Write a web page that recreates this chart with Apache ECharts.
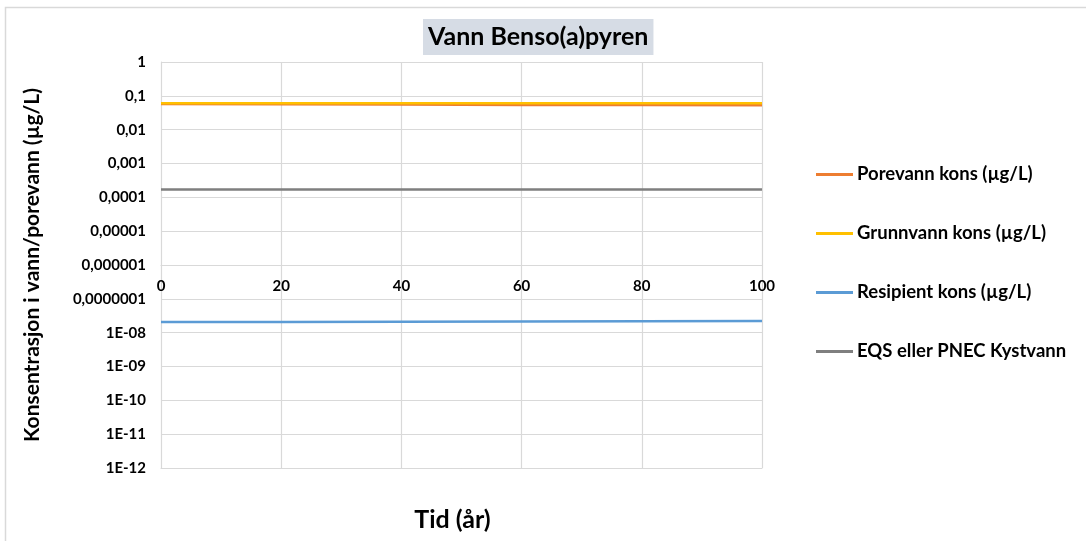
<!DOCTYPE html>
<html>
<head>
<meta charset="utf-8">
<script src="https://cdn.jsdelivr.net/npm/echarts@6/dist/echarts.min.js"></script>
<style>html,body{margin:0;padding:0;background:#fff}#c{width:1086px;height:541px}</style>
</head>
<body>
<div id="c"></div>
<script>
var years = [0, 20, 40, 60, 80, 100];
var porevann = [0.057, 0.056, 0.055, 0.054, 0.0535, 0.053];
var grunnvann = [0.06, 0.06, 0.06, 0.06, 0.06, 0.06];
var resipient = [2.05e-8, 2.08e-8, 2.11e-8, 2.14e-8, 2.17e-8, 2.2e-8];
var eqs = [1.7e-4, 1.7e-4, 1.7e-4, 1.7e-4, 1.7e-4, 1.7e-4];
var seriesNames = ['Porevann kons (µg/L)', 'Grunnvann kons (µg/L)', 'Resipient kons (µg/L)', 'EQS eller PNEC Kystvann'];
var yTickLabels = ['1', '0,1', '0,01', '0,001', '0,0001', '0,00001', '0,000001', '0,0000001', '1E-08', '1E-09', '1E-10', '1E-11', '1E-12'];
var xTicks = [0, 20, 40, 60, 80, 100];

function pairs(vals) { return years.map(function (y, i) { return [y, vals[i]]; }); }

var FONT = 'Lato';
var grid = '#d9d9d9';
var chart = echarts.init(document.getElementById('c'));
chart.setOption({
  animation: false,
  textStyle: { fontFamily: FONT },
  graphic: [{
    type: 'rect', shape: { x: 5.5, y: 7.5, width: 1100, height: 560 },
    style: { fill: 'none', stroke: '#d9d9d9', lineWidth: 1.5 }, silent: true, z: -10
  }],
  title: {
    text: 'Vann Benso(a)pyren', left: 423, top: 19,
    backgroundColor: '#d6dce5', padding: [5, 5, 6, 5],
    textStyle: { fontFamily: FONT, fontWeight: 'bold', fontSize: 25, color: '#000' }
  },
  legend: {
    orient: 'vertical', left: 816, top: 165, padding: 0, itemWidth: 37, itemHeight: 3, itemGap: 40,
    icon: 'rect',
    textStyle: { fontFamily: FONT, fontWeight: 'bold', fontSize: 18.5, color: '#000', padding: [0, 0, 0, -1] },
    data: seriesNames
  },
  grid: [
    { left: 161, top: 62, width: 601, height: 406 },
    { left: 161, top: 62, width: 601, height: 203 }
  ],
  xAxis: [{
    type: 'value', gridIndex: 0, min: 0, max: 100, interval: 20,
    axisLine: { show: true, lineStyle: { color: grid } }, axisTick: { show: false },
    axisLabel: { show: false },
    splitLine: { show: true, lineStyle: { color: grid, width: 1.2 } },
    name: 'Tid (år)', nameLocation: 'middle', nameGap: 39,
    nameTextStyle: { fontFamily: FONT, fontWeight: 'bold', fontSize: 25, color: '#000', padding: [0, 18, 0, 0] }
  }, {
    type: 'value', gridIndex: 1, min: 0, max: 100, interval: 20, data: xTicks,
    axisLine: { show: true, lineStyle: { color: grid, width: 1.2 } }, axisTick: { show: false },
    axisLabel: { show: true, margin: 14, fontFamily: FONT, fontWeight: 'bold', fontSize: 15, color: '#000' },
    splitLine: { show: false }
  }],
  yAxis: [{
    type: 'log', gridIndex: 0, logBase: 10, min: 1e-12, max: 1, interval: 1,
    axisLine: { show: true, lineStyle: { color: grid } }, axisTick: { show: false },
    axisLabel: {
      margin: 15, fontFamily: FONT, fontWeight: 'bold', fontSize: 15, color: '#000',
      formatter: function (v) { var i = Math.round(-Math.log10(v)); return yTickLabels[i] || ''; }
    },
    splitLine: { show: true, lineStyle: { color: grid, width: 1.2 } },
    name: 'Konsentrasjon i vann/porevann (µg/L)', nameLocation: 'middle', nameGap: 118,
    nameTextStyle: { fontFamily: FONT, fontWeight: 'bold', fontSize: 21, color: '#000' }
  }, {
    type: 'value', gridIndex: 1, show: false, min: 0, max: 1
  }],
  series: [
    { name: seriesNames[0], type: 'line', xAxisIndex: 0, yAxisIndex: 0, data: pairs(porevann), showSymbol: false, symbol: 'none', lineStyle: { color: '#ED7D31', width: 2.5 }, itemStyle: { color: '#ED7D31' } },
    { name: seriesNames[1], type: 'line', xAxisIndex: 0, yAxisIndex: 0, data: pairs(grunnvann), showSymbol: false, symbol: 'none', lineStyle: { color: '#FFC000', width: 2.5 }, itemStyle: { color: '#FFC000' } },
    { name: seriesNames[2], type: 'line', xAxisIndex: 0, yAxisIndex: 0, data: pairs(resipient), showSymbol: false, symbol: 'none', lineStyle: { color: '#5B9BD5', width: 2.5 }, itemStyle: { color: '#5B9BD5' } },
    { name: seriesNames[3], type: 'line', xAxisIndex: 0, yAxisIndex: 0, data: pairs(eqs), showSymbol: false, symbol: 'none', lineStyle: { color: '#7F7F7F', width: 2.5 }, itemStyle: { color: '#7F7F7F' } }
  ]
});
</script>
</body>
</html>
